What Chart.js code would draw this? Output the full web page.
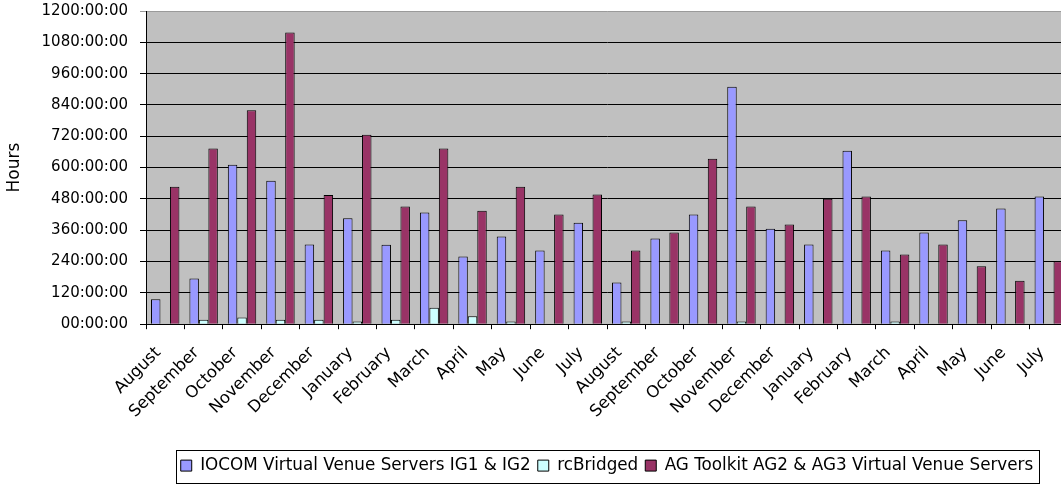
<!DOCTYPE html>
<html>
<head>
<meta charset="utf-8">
<script src="https://cdn.jsdelivr.net/npm/chart.js@4.4.1/dist/chart.umd.min.js"></script>
<style>
  html, body { margin: 0; padding: 0; background: #fff; overflow: hidden; }
  #wrap { width: 1072px; height: 485px; }
</style>
</head>
<body>
<div id="wrap"><canvas id="chart" width="1072" height="485"></canvas></div>
<script>
const months = ['August', 'September', 'October', 'November', 'December', 'January',
  'February', 'March', 'April', 'May', 'June', 'July',
  'August', 'September', 'October', 'November', 'December', 'January',
  'February', 'March', 'April', 'May', 'June', 'July'];

// hours per month
const iocom = [96, 175, 611, 550, 305, 406, 304, 428, 259, 336, 282, 389,
  160, 328, 420, 910, 366, 305, 665, 282, 351, 398, 443, 489];
const rcBridged = [0, 17, 26, 17, 17, 10, 17, 63, 30, 10, 0, 0,
  10, 2, 0, 10, 2, 2, 0, 10, 2, 2, 0, 0];
const agToolkit = [527, 673, 820, 1118, 495, 726, 451, 673, 435, 527, 420, 497,
  282, 351, 634, 451, 382, 481, 489, 267, 305, 222, 166, 241];

const yTicks = [0, 120, 240, 360, 480, 600, 720, 840, 960, 1080, 1200];

const font = { family: 'DejaVu Sans', size: 15 };

// grey plot area + box round the legend
const plotBg = {
  id: 'plotBg',
  beforeDraw(chart) {
    const { ctx, chartArea: a } = chart;
    ctx.save();
    ctx.fillStyle = '#C0C0C0';
    ctx.fillRect(a.left, a.top, a.right - a.left, a.bottom - a.top);
    ctx.restore();
  },
  afterDraw(chart) {
    const lg = chart.legend;
    if (!lg || !lg.legendHitBoxes.length) return;
    const boxes = lg.legendHitBoxes;
    const l = Math.min(...boxes.map(b => b.left)) - 5;
    const r = Math.max(...boxes.map(b => b.left + b.width)) + 5;
    const ctx = chart.ctx;
    ctx.save();
    ctx.strokeStyle = '#000';
    ctx.lineWidth = 1;
    ctx.strokeRect(Math.round(l) + 0.5, Math.round(lg.top) + 0.5, Math.round(r - l), Math.round(lg.bottom - lg.top) - 1);
    ctx.restore();
  }
};

new Chart(document.getElementById('chart').getContext('2d'), {
  type: 'bar',
  data: {
    labels: months,
    datasets: [
      { label: 'IOCOM Virtual Venue Servers IG1 & IG2', data: iocom,
        backgroundColor: '#9999FF', borderColor: '#000', borderWidth: 1 },
      { label: 'rcBridged', data: rcBridged,
        backgroundColor: '#CCFFFF', borderColor: '#000', borderWidth: 1 },
      { label: 'AG Toolkit AG2 & AG3 Virtual Venue Servers', data: agToolkit,
        backgroundColor: '#993366', borderColor: '#000', borderWidth: 1 }
    ]
  },
  options: {
    responsive: false,
    animation: false,
    events: [],
    categoryPercentage: 0.74,
    barPercentage: 1.0,
    layout: { padding: { left: 0, top: 11, right: 4, bottom: 1 } },
    plugins: {
      tooltip: { enabled: false },
      legend: {
        position: 'bottom',
        fullSize: false,
        labels: { font: { family: 'DejaVu Sans', size: 16.8 }, color: '#000',
          boxWidth: 11, boxHeight: 11, padding: 7 }
      }
    },
    scales: {
      x: {
        afterFit(scale) {
          scale.height = 126;
          scale.paddingLeft = 0;
          scale.paddingRight = 0;
        },
        grid: { offset: true, drawOnChartArea: false, drawTicks: true, tickLength: 5, color: '#000' },
        border: { color: '#000', width: 1 },
        ticks: { font: { family: 'DejaVu Sans', size: 16.5 }, color: '#000',
          maxRotation: 45, minRotation: 45, autoSkip: false, padding: 14, labelOffset: -7 }
      },
      y: {
        min: 0,
        max: 1200,
        afterFit(scale) {
          scale.width = 146;
          scale.paddingTop = 0;
          scale.paddingBottom = 0;
        },
        afterBuildTicks(scale) { scale.ticks = yTicks.map(v => ({ value: v })); },
        title: { display: true, text: 'Hours', font: { family: 'DejaVu Sans', size: 17 }, color: '#000' },
        grid: {
          color: c => (c.tick && c.tick.value === 1200 ? '#9a9a9a' : '#000'),
          tickLength: 6, lineWidth: 1
        },
        border: { color: '#000', width: 1 },
        ticks: {
          font: font, color: '#000', padding: 12,
          callback: v => String(v).padStart(2, '0') + ':00:00'
        }
      }
    }
  },
  plugins: [plotBg]
});
</script>
</body>
</html>
